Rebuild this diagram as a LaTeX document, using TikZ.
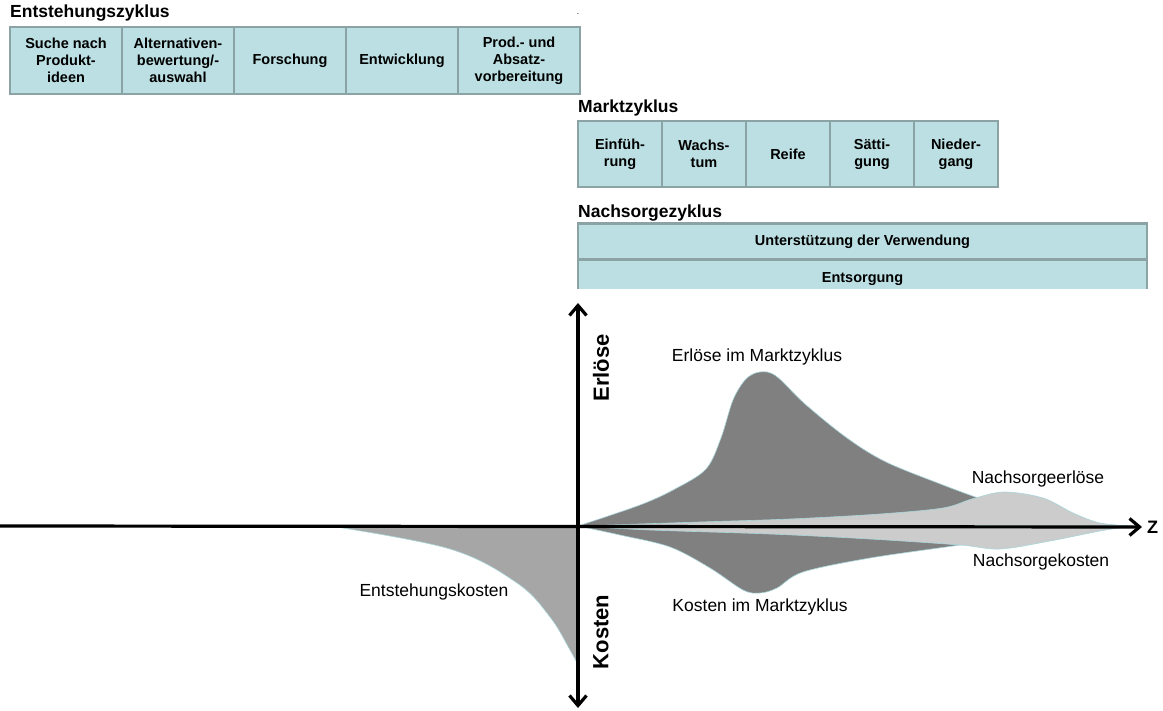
\documentclass[tikz,border=0pt]{standalone}
\usepackage{fontspec}
\setmainfont{Liberation Sans}
\usetikzlibrary{arrows.meta}
\definecolor{boxfill}{HTML}{BBDFE2}
\definecolor{boxline}{HTML}{8CA3A5}
\definecolor{darkarea}{HTML}{808080}
\definecolor{lightarea}{HTML}{CCCCCC}
\definecolor{midarea}{HTML}{A6A6A6}
\definecolor{edgecyan}{HTML}{A9D6DB}
\begin{document}
\begin{tikzpicture}[x=1pt,y=-1pt,
  phase/.style={draw=boxline, line width=2.6pt, fill=boxfill, inner sep=0pt, outer sep=0pt, align=center,
    font=\fontsize{14.5}{17}\selectfont\bfseries},
  cycletitle/.style={anchor=west, inner sep=0pt, font=\fontsize{17.5}{20}\selectfont\bfseries},
  curvelabel/.style={inner sep=0pt, font=\fontsize{17.5}{20}\selectfont},
  axlabel/.style={inner sep=0pt, rotate=90, font=\fontsize{22}{24}\selectfont\bfseries},
  barb/.tip={Straight Barb[length=10pt,width=17pt,line width=3.2pt]},
  axisline/.style={line width=3.2pt},
  area/.style={draw=edgecyan, line width=0.6pt}]
\useasboundingbox (0,0) rectangle (1163,711);

% Entstehungszyklus
\node[cycletitle] (tE) at (10,13) {Entstehungszyklus};
\node[inner sep=0pt, font=\fontsize{8}{8}\selectfont] (dot) at (578,14) {.};
\node[phase, minimum width=112pt, minimum height=67pt] (e1) at (66,60.5) {Suche nach\\Produkt-\\ideen};
\node[phase, minimum width=112pt, minimum height=67pt] (e2) at (178,60.5) {Alternativen-\\bewertung/-\\auswahl};
\node[phase, minimum width=112pt, minimum height=67pt] (e3) at (290,60.5) {Forschung};
\node[phase, minimum width=112pt, minimum height=67pt] (e4) at (402,60.5) {Entwicklung};
\node[phase, minimum width=122pt, minimum height=67pt] (e5) at (519,60.5) {Prod.- und\\Absatz-\\vorbereitung};

% Marktzyklus
\node[cycletitle] (tM) at (578,108) {Marktzyklus};
\node[phase, minimum width=84pt, minimum height=66pt] (m1) at (620,154) {Einfüh-\\rung};
\node[phase, minimum width=84pt, minimum height=66pt] (m2) at (704,154) {Wachs-\\tum};
\node[phase, minimum width=84pt, minimum height=66pt] (m3) at (788,154) {Reife};
\node[phase, minimum width=84pt, minimum height=66pt] (m4) at (872,154) {Sätti-\\gung};
\node[phase, minimum width=84pt, minimum height=66pt] (m5) at (956,154) {Nieder-\\gang};

% Nachsorgezyklus
\node[cycletitle] (tN) at (578,213) {Nachsorgezyklus};
\node[phase, minimum width=569pt, minimum height=36pt] (n1) at (862.5,241.5) {Unterstützung der Verwendung};
\node[phase, draw=none, minimum width=569pt, minimum height=30pt] (n2) at (862.5,274.5) {};
\node[inner sep=0pt, font=\fontsize{14.5}{17}\selectfont\bfseries] (n2text) at (862.5,279) {Entsorgung};
\draw[boxline, line width=2.6pt] (n2.south west) -- (n2.north west) -- (n2.north east) -- (n2.south east);

% areas
\path[area, fill=midarea] plot[smooth, tension=0.6] coordinates {(330,526) (450,549) (517,583) (550,617) (570,650) (578,665)} -- (578,526) -- cycle;
\path[area, fill=darkarea] plot[smooth, tension=0.55] coordinates {(578,526) (640,505) (675,489) (706,469) (721,438) (733,400) (746,379) (760,372) (776,376) (805,404) (847,438) (886,462) (943,485) (978,498)} -- (978,526) -- cycle;
\path[area, fill=lightarea] plot[smooth, tension=0.55] coordinates {(578,526) (700,522) (790,519) (880,514) (943,508) (972,499) (1004,492) (1043,498) (1073,513) (1100,523) (1132,526)} -- cycle;
\path[area, fill=darkarea] plot[smooth, tension=0.55] coordinates {(578,526) (620,535) (670,547) (710,568) (743,590) (760,593) (777,588) (803,572) (870,558) (960,545) (990,540)} -- (990,526) -- cycle;
\path[area, fill=lightarea] plot[smooth, tension=0.55] coordinates {(578,526) (650,530) (770,534) (870,539) (960,545) (1000,549) (1050,541) (1100,531) (1132,526)} -- cycle;

% axes
\coordinate (O) at (578,526);
\coordinate (ytop) at (578,303);
\coordinate (ybot) at (578,708);
\coordinate (xl) at (0,526);
\node[inner sep=0pt, anchor=west, font=\fontsize{18}{20}\selectfont\bfseries] (Z) at (1147,527) {Z};
\draw[axisline, barb-barb] (ybot) -- (ytop);
\draw[axisline, -barb, shorten >=5pt] (xl) -- (Z.west);

% labels
\node[axlabel] (lE) at (601,368) {Erlöse};
\node[axlabel] (lK) at (601,632) {Kosten};
\node[curvelabel] (l1) at (757,357) {Erlöse im Marktzyklus};
\node[curvelabel] (l2) at (1038,479) {Nachsorgeerlöse};
\node[curvelabel] (l3) at (1041,562) {Nachsorgekosten};
\node[curvelabel] (l4) at (760,607) {Kosten im Marktzyklus};
\node[curvelabel] (l5) at (434,592) {Entstehungskosten};
\end{tikzpicture}
\end{document}
